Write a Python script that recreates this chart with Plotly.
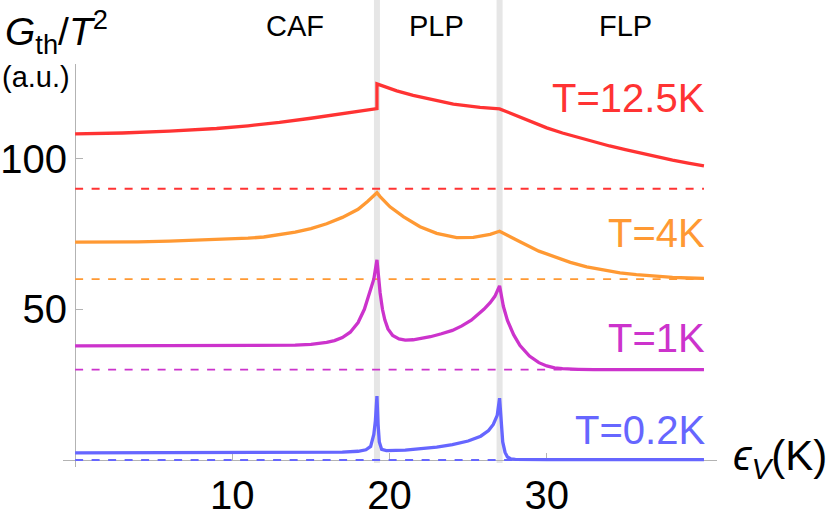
import plotly.graph_objects as go

W, H = 834, 519

# ---------------- data ----------------
red_x = [0, 3, 6, 9, 11, 13, 15, 17, 19.2, 19.2, 20.46, 21.5, 22.6, 24.06, 25.76, 27,
         27.5, 28, 28.5, 29, 30, 31, 32, 33, 34, 35, 36, 37, 38, 39, 40]
red_y = [108.2, 108.5, 109.1, 110.0, 110.9, 112.0, 113.4, 114.9, 116.6, 124.8, 122.5, 121.0, 119.7, 118.1, 117.0, 116.5,
         115.5, 114.4, 113.3, 112.2, 110.2, 108.5, 107.0, 105.5, 104.2, 103.0, 101.8, 100.6, 99.5, 98.5, 97.6]

orange_x = [0, 2, 4, 6, 8, 10, 11, 12, 13, 14, 15, 16, 17, 18, 18.6, 19.2,
            19.4, 20.03, 20.9, 21.94, 23.0, 24.27, 25.33, 26.4, 27,
            27.6, 28.3, 29.5, 30.42, 31.5, 32.54, 33.6, 34.66, 35.7, 36.79, 38, 39, 40]
orange_y = [72.3, 72.3, 72.4, 72.6, 72.9, 73.3, 73.6, 74.0, 74.7, 75.6, 76.8, 78.4, 80.5, 83.2, 85.8, 88.7,
            87.4, 84.0, 80.7, 77.4, 75.2, 73.8, 73.9, 74.9, 75.9,
            74.2, 72.4, 69.3, 67.5, 65.6, 64.1, 63.0, 62.1, 61.5, 61.0, 60.6, 60.4, 60.3]

magenta_x = [0, 5, 10, 13, 14, 15, 16, 16.5, 17, 17.5, 18, 18.4, 18.76, 19.0, 19.2,
             19.3, 19.4, 19.55, 19.7, 19.9, 20.2, 20.6, 21.0, 21.5, 22.0, 22.6, 23.3, 24.0, 24.6,
             25.2, 25.6, 26.0, 26.4, 26.7, 27.0,
             27.24, 27.5, 27.9, 28.3, 28.9, 29.5, 30.0, 30.5, 31.0, 32.0, 33.0, 36.0, 40.0]
magenta_y = [37.9, 37.9, 37.9, 38.0, 38.1, 38.4, 39.0, 39.6, 40.6, 42.4, 45.6, 50.0, 55.5, 60.0, 66.4,
             60.0, 55.5, 50.0, 46.5, 43.5, 41.3, 40.2, 39.8, 39.9, 40.3, 40.9, 41.9, 43.0, 44.5,
             46.4, 48.2, 50.0, 52.2, 54.3, 57.8,
             51.0, 46.3, 41.5, 38.0, 34.5, 32.3, 31.2, 30.6, 30.3, 30.1, 30.0, 30.0, 30.0]

blue_x = [0, 10, 15, 17, 18, 18.5, 18.8, 19.0, 19.1, 19.2, 19.27, 19.35, 19.5, 19.8,
          21.0, 22.0, 23.0, 24.0, 25.0, 25.8, 26.3, 26.6, 26.85, 27.0,
          27.1, 27.2, 27.35, 27.5, 27.7, 28.0, 30.0, 40.0]
blue_y = [2.4, 2.4, 2.5, 2.6, 2.9, 3.4, 4.5, 8.5, 13.0, 21.2, 12.0, 6.0, 3.5, 3.1,
          3.3, 3.7, 4.3, 5.1, 6.3, 7.9, 9.8, 11.8, 14.8, 20.5,
          12.0, 6.0, 2.5, 1.0, 0.4, 0.2, 0.15, 0.15]

series_names = ["T=12.5K", "T=4K", "T=1K", "T=0.2K"]
series_colors = ["#ff3333", "#ff9933", "#cc33cc", "#6666ff"]
baselines = [90, 60, 30, 0]
label_y = [120.1, 75.3, 40.5, 10.1]

transitions = [19.2, 27.0]
phase_names = ["CAF", "PLP", "FLP"]
phase_x = [14.0, 23.0, 35.0]

x_ticks = [10, 20, 30]
y_ticks = [50, 100]
x_range = [-0.77, 40.83]
y_range = [-2.32, 131.4]

# ---------------- figure ----------------
FONT = "Liberation Sans, Arial, Helvetica, sans-serif"
fig = go.Figure()

curves = [(red_x, red_y), (orange_x, orange_y), (magenta_x, magenta_y), (blue_x, blue_y)]

for (cx, cy), name, col, base in zip(curves, series_names, series_colors, baselines):
    fig.add_trace(go.Scatter(x=[0, 40], y=[base, base], mode="lines",
                             line=dict(color=col, width=1.8, dash="8px,8.5px"),
                             hoverinfo="skip", showlegend=False))
for (cx, cy), name, col in zip(curves, series_names, series_colors):
    fig.add_trace(go.Scatter(x=cx, y=cy, mode="lines", name=name,
                             line=dict(color=col, width=3.3),
                             showlegend=False))

def px2fx(px):
    return px / W

def px2fy(py):
    return (H - py) / H

shapes = []
for t in transitions:
    shapes.append(dict(type="line", xref="x", yref="paper", x0=t, x1=t,
                       y0=px2fy(463), y1=1.0, layer="below",
                       line=dict(color="#e6e6e6", width=6)))

annotations = []
for name, col, ly in zip(series_names, series_colors, label_y):
    annotations.append(dict(x=40.2, y=ly, xref="x", yref="y", text=name,
                            showarrow=False, xanchor="right", yanchor="middle",
                            font=dict(family=FONT, size=40, color=col)))
for pn, pxv in zip(phase_names, phase_x):
    annotations.append(dict(x=pxv, y=px2fy(26), xref="x", yref="paper", text=pn,
                            showarrow=False, xanchor="center", yanchor="middle",
                            font=dict(family=FONT, size=29, color="black")))
annotations.append(dict(x=px2fx(3), y=px2fy(32), xref="paper", yref="paper",
                        text="<i>G</i><sub>th</sub>/<i>T</i><sup>2</sup>",
                        showarrow=False, xanchor="left", yanchor="middle",
                        font=dict(family=FONT, size=39, color="black")))
annotations.append(dict(x=px2fx(36), y=px2fy(77), xref="paper", yref="paper",
                        text="(a.u.)", showarrow=False, xanchor="center", yanchor="middle",
                        font=dict(family=FONT, size=29, color="black")))
annotations.append(dict(x=px2fx(780), y=px2fy(458), xref="paper", yref="paper",
                        text="<i>ϵ</i><sub><i>V</i></sub>(K)", showarrow=False,
                        xanchor="center", yanchor="middle",
                        font=dict(family=FONT, size=42, color="black")))

fig.update_layout(
    width=W, height=H, autosize=False,
    margin=dict(l=0, r=0, t=0, b=0, pad=0),
    paper_bgcolor="white", plot_bgcolor="white",
    showlegend=False,
    shapes=shapes, annotations=annotations,
    xaxis=dict(domain=[px2fx(63), px2fx(717)], range=x_range, anchor="free",
               position=px2fy(460), showgrid=False, zeroline=False,
               showline=True, linecolor="#b3b3b3", linewidth=1, layer="below traces",
               ticks="inside", ticklen=7, tickcolor="#b3b3b3", tickwidth=1,
               tickvals=x_ticks, ticktext=[str(v) for v in x_ticks],
               tickfont=dict(family=FONT, size=40, color="black")),
    yaxis=dict(domain=[px2fy(467), px2fy(64)], range=y_range, anchor="free",
               position=px2fx(75.1), showgrid=False, zeroline=False,
               showline=True, linecolor="#b3b3b3", linewidth=1, layer="below traces",
               ticks="inside", ticklen=7, tickcolor="#b3b3b3", tickwidth=1,
               tickvals=y_ticks, ticktext=[str(v) for v in y_ticks],
               tickfont=dict(family=FONT, size=40, color="black")),
)

fig.write_html("out.html")
